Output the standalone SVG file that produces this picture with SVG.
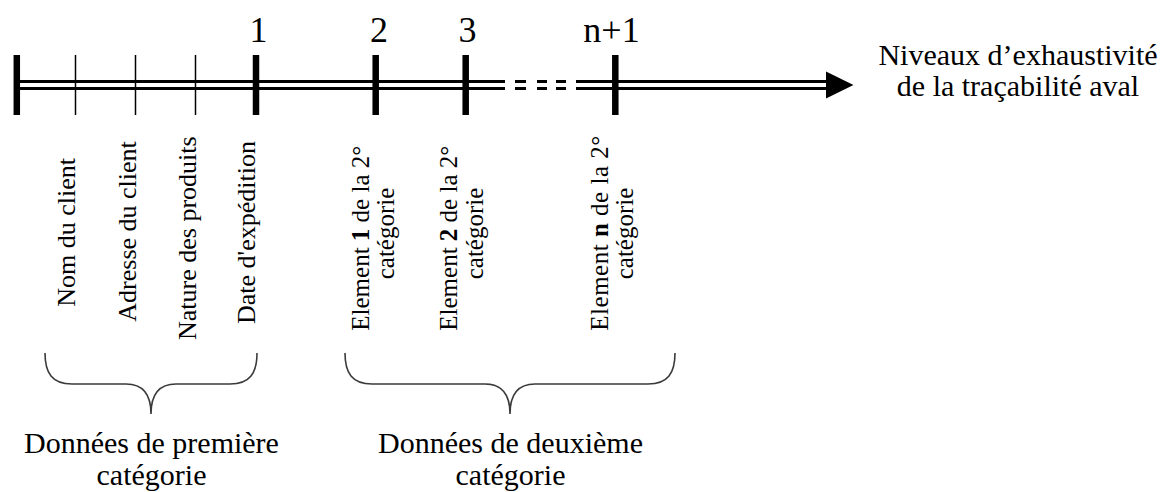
<svg xmlns="http://www.w3.org/2000/svg" width="1162" height="492" viewBox="0 0 1162 492">
<style>
.ax{stroke:#000;stroke-width:3;fill:none}
.thick{stroke:#000;stroke-width:6.5}
.thin{stroke:#000;stroke-width:1.5}
.brace{stroke:#3a3a3a;stroke-width:1.6;fill:none}
</style>
<rect width="1162" height="492" fill="#fff"/>
<g id="connectors">
  <path class="ax" d="M17,81.5H505M17,88.5H505M515,81.5H526M515,88.5H526M537,81.5H547M537,88.5H547M556,81.5H566M556,88.5H566M576,81.5H830M576,88.5H830"/>
  <polygon points="826,71.5 853.5,85 826,98.5" fill="#000"/>
</g>
<g id="ticks">
  <line class="thick" x1="16.8" y1="55" x2="16.8" y2="115"/>
  <line class="thin" x1="75.5" y1="55" x2="75.5" y2="115"/>
  <line class="thin" x1="135.5" y1="55" x2="135.5" y2="115"/>
  <line class="thin" x1="195.5" y1="55" x2="195.5" y2="115"/>
  <line class="thick" x1="256" y1="55" x2="256" y2="115"/>
  <line class="thick" x1="375.7" y1="55" x2="375.7" y2="115"/>
  <line class="thick" x1="465.7" y1="55" x2="465.7" y2="115"/>
  <line class="thick" x1="615.3" y1="55" x2="615.3" y2="115"/>
</g>
<g id="level-numbers" font-family="Liberation Serif" font-size="36" text-anchor="middle">
  <text x="258.5" y="42">1</text>
  <text x="379" y="42">2</text>
  <text x="467.5" y="42">3</text>
  <text x="611.5" y="42">n+1</text>
</g>
<g id="axis-label" font-family="Liberation Serif" font-size="30" text-anchor="middle">
  <text x="1018" y="65">Niveaux d’exhaustivité</text>
  <text x="1018" y="96">de la traçabilité aval</text>
</g>
<g id="first-category-items" font-family="Liberation Serif" font-size="26">
  <text transform="translate(75,306.7) rotate(-90)">Nom du client</text>
  <text transform="translate(136,321.7) rotate(-90)">Adresse du client</text>
  <text transform="translate(196,340) rotate(-90)">Nature des produits</text>
  <text transform="translate(255,324) rotate(-90)">Date d'expédition</text>
</g>
<g id="second-category-items" font-family="Liberation Serif" font-size="25">
  <g transform="translate(369.3,330.7) rotate(-90)">
    <text x="0" y="0">Element <tspan font-weight="bold">1</tspan> de la 2°</text>
    <text x="51.4" y="25">catégorie</text>
  </g>
  <g transform="translate(457.3,330.7) rotate(-90)">
    <text x="0" y="0">Element <tspan font-weight="bold">2</tspan> de la 2°</text>
    <text x="51.4" y="25.5">catégorie</text>
  </g>
  <g transform="translate(608,330.7) rotate(-90)">
    <text x="0" y="0" textLength="195">Element <tspan font-weight="bold">n</tspan> de la 2°</text>
    <text x="51.4" y="25">catégorie</text>
  </g>
</g>
<g id="brace-first">
  <path class="brace" d="M45,353 C45,373 52,384 72,384 L126,384 C142,384 151,394 151,414 C151,394 160,384 176,384 L230,384 C250,384 257,373 257,353"/>
  <text x="151.5" y="453" font-family="Liberation Serif" font-size="30" text-anchor="middle">Données de première</text>
  <text x="151.5" y="485" font-family="Liberation Serif" font-size="30" text-anchor="middle">catégorie</text>
</g>
<g id="brace-second">
  <path class="brace" d="M345,353 C345,373 352,384 372,384 L485,384 C501,384 510,394 510,414 C510,394 519,384 535,384 L648,384 C668,384 675,373 675,353"/>
  <text x="510.5" y="453" font-family="Liberation Serif" font-size="30" text-anchor="middle">Données de deuxième</text>
  <text x="510.5" y="485" font-family="Liberation Serif" font-size="30" text-anchor="middle">catégorie</text>
</g>
</svg>
